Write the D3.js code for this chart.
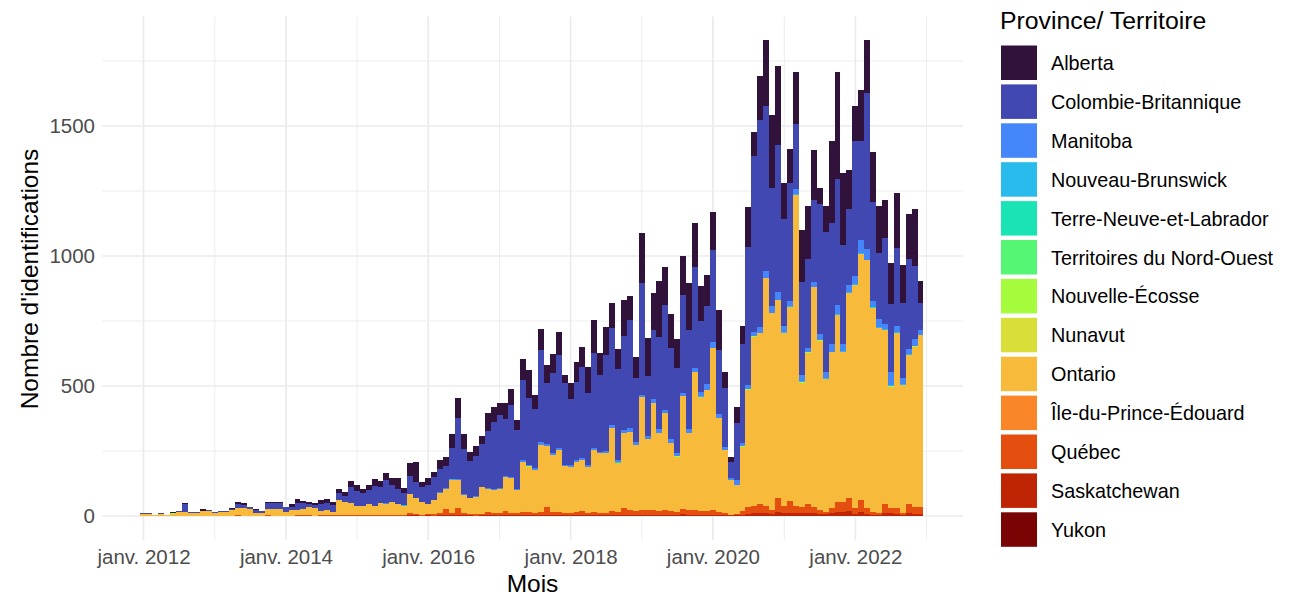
<!DOCTYPE html>
<html>
<head>
<meta charset="utf-8">
<script src="https://cdn.jsdelivr.net/npm/d3@7"></script>
<style>
  body { margin: 0; background: #fff; }
  svg { font-family: "Liberation Sans", Arial, sans-serif; }
</style>
</head>
<body>
<svg id="chart" width="1295" height="596"></svg>
<script>
// monthly identifications, Jan 2012 -> Dec 2022 (one row per year)
var alberta = [
  0,0,0,0,0,1,1,2,1,1,7,1,
  1,1,1,2,8,9,2,2,1,6,6,6,
  3,9,13,10,10,6,12,15,11,16,18,25,
  22,15,20,25,25,30,25,40,20,50,80,22,
  25,20,35,35,55,75,60,35,40,30,70,55,
  45,60,60,40,80,106,55,80,68,74,87,32,
  62,77,77,99,126,81,109,96,79,141,90,81,
  192,147,144,212,145,131,112,150,182,169,135,122,
  145,154,64,19,64,70,154,90,167,254,282,304,
  141,131,199,199,205,190,60,103,314,413,276,151,
  132,196,205,192,182,145,160,215,144,171,220,83
];
var colombie = [
  1,1,0,2,1,3,4,30,4,4,2,2,
  2,4,4,5,16,13,8,11,6,23,23,23,
  16,13,28,23,9,14,28,26,29,25,24,60,
  57,51,54,76,60,88,65,57,46,69,59,55,
  75,90,89,87,118,236,173,141,153,166,220,261,
  280,220,279,226,308,258,228,352,235,308,358,313,
  253,302,351,275,365,296,370,373,348,362,418,246,
  428,231,264,356,406,350,327,376,382,389,273,300,
  353,247,225,63,217,379,529,677,800,635,456,566,
  410,454,249,357,342,318,500,538,466,484,382,293,
  520,382,601,381,254,334,260,297,288,346,280,103
];
var manitoba = [
  0,0,0,0,0,0,0,0,0,0,0,0,
  0,0,0,0,0,0,0,0,0,0,0,0,
  0,0,0,0,0,0,0,0,0,0,0,0,
  0,0,0,0,0,1,0,0,0,1,0,0,
  0,1,1,1,2,2,2,1,2,2,2,2,
  3,3,3,3,6,5,5,13,8,6,7,5,
  6,6,8,8,6,5,8,12,10,10,12,10,
  8,10,15,15,10,15,12,15,15,15,15,20,
  25,15,12,8,20,12,15,15,20,25,25,30,
  25,20,20,25,15,18,22,23,32,35,28,28,
  32,50,40,23,32,19,51,26,26,22,28,19
];
var nouveauBrunswick = [
  0,0,0,0,0,0,0,0,0,0,0,0,
  0,0,0,0,0,0,0,0,0,0,0,0,
  0,0,0,0,0,0,0,0,0,0,0,0,
  0,0,0,0,0,0,0,0,1,0,0,0,
  0,0,0,0,1,0,0,0,0,0,0,0,
  0,0,1,0,0,0,1,0,0,0,0,1,
  1,0,0,1,0,2,0,1,0,0,1,0,
  0,1,0,0,2,1,0,0,1,0,2,1,
  1,0,0,0,1,2,3,2,1,2,1,0,
  2,1,2,3,2,1,2,3,1,2,1,2,
  2,3,1,2,2,1,3,2,1,2,2,1
];
var terreNeuve = [
  0,0,0,0,0,0,0,0,0,0,0,0,
  0,0,0,0,0,0,0,0,0,0,0,0,
  0,0,0,0,0,0,0,0,0,0,0,0,
  0,0,0,0,0,0,0,0,0,0,0,0,
  0,0,0,0,0,0,1,0,0,0,0,0,
  0,0,0,0,0,0,0,0,0,0,0,0,
  0,0,0,0,0,0,0,0,2,0,0,0,
  0,0,0,0,0,1,0,0,0,0,0,0,
  0,0,0,0,0,0,0,0,0,0,0,0,
  0,0,0,0,1,0,0,0,0,0,0,1,
  0,0,0,1,0,0,0,0,1,0,0,0
];
var territoiresNO = [
  0,0,0,0,0,0,0,0,0,0,0,0,
  0,0,0,0,0,0,0,0,0,0,0,0,
  0,0,0,0,0,0,0,0,0,0,0,0,
  0,0,0,0,0,0,0,0,0,0,0,0,
  0,0,0,0,0,0,0,0,0,0,0,0,
  0,0,0,0,0,0,0,0,0,0,0,0,
  0,0,0,0,0,0,0,0,0,0,0,0,
  0,0,0,0,0,0,0,0,0,0,0,0,
  0,0,0,0,0,0,0,1,0,0,0,0,
  0,0,0,0,0,0,0,0,0,0,0,0,
  0,0,0,0,0,1,0,0,0,0,0,0
];
var nouvelleEcosse = [
  0,0,0,0,0,1,0,0,0,0,0,0,
  0,0,0,0,0,0,0,0,0,0,0,0,
  0,0,0,0,0,0,0,0,0,0,0,0,
  0,0,0,0,0,0,0,0,0,0,0,0,
  0,0,0,0,0,0,0,0,0,0,0,0,
  0,0,0,0,0,1,0,0,0,0,0,0,
  0,0,0,0,1,0,0,0,0,1,0,0,
  0,0,0,1,0,0,1,0,0,0,0,0,
  0,0,0,0,0,1,2,1,0,0,1,0,
  1,0,1,2,1,0,1,1,0,1,0,1,
  1,1,0,2,1,1,2,1,0,1,1,0
];
var nunavut = [
  0,0,0,0,0,0,0,0,0,0,0,0,
  0,0,0,0,0,0,0,0,0,0,0,0,
  0,0,0,0,0,0,0,0,0,0,0,0,
  0,0,0,0,0,0,0,0,0,0,0,0,
  0,0,0,0,0,0,0,0,0,0,0,0,
  0,0,0,0,0,0,0,0,0,0,0,0,
  0,0,0,0,0,0,0,0,0,0,0,0,
  0,0,0,0,0,0,0,0,0,0,0,0,
  0,0,0,0,0,0,0,0,0,0,0,0,
  0,0,0,0,0,0,1,0,0,0,0,0,
  0,0,0,0,0,0,0,0,0,0,0,0
];
var ontario = [
  9,8,4,8,3,8,14,16,11,12,17,19,
  12,13,15,21,27,28,25,12,13,24,25,25,
  16,22,21,24,34,28,18,21,13,59,48,46,
  37,35,42,36,45,44,51,43,37,75,63,50,
  37,54,80,77,130,111,68,62,66,101,90,87,
  95,132,132,90,193,173,164,259,235,220,240,181,
  176,193,196,176,238,230,228,319,189,288,302,254,
  434,273,411,299,372,261,212,434,294,532,439,466,
  622,360,241,133,112,247,452,650,656,874,756,761,
  663,748,1195,478,581,844,651,509,599,718,577,788,
  859,946,956,782,712,669,468,674,494,573,615,660
];
var ilePE = [
  0,0,0,0,0,0,0,0,0,0,0,0,
  0,0,0,0,0,0,0,0,0,0,0,0,
  0,0,0,0,0,0,0,0,0,0,0,0,
  0,0,0,0,0,0,0,0,0,0,0,0,
  0,0,0,0,0,0,0,0,0,0,0,0,
  0,0,0,0,0,0,0,0,0,0,0,0,
  0,0,0,0,0,0,0,0,0,0,0,0,
  0,0,0,0,0,0,0,0,0,0,0,0,
  0,0,0,0,0,0,0,0,1,0,0,0,
  0,0,0,0,0,1,0,0,0,0,0,0,
  0,0,0,0,1,0,0,0,0,0,0,0
];
var quebec = [
  0,1,0,0,0,1,1,1,1,0,1,1,
  0,1,0,1,2,1,1,1,0,2,1,1,
  1,1,2,2,2,1,2,2,2,3,3,3,
  2,3,3,3,4,3,4,4,3,8,5,4,
  6,5,8,25,8,25,10,6,8,7,12,10,
  8,15,10,8,12,14,10,10,30,12,10,8,
  10,12,15,10,12,8,10,14,12,25,18,15,
  20,18,20,15,18,15,12,20,20,18,15,15,
  18,12,10,3,5,15,25,30,35,30,15,55,
  30,45,30,25,35,25,15,10,20,40,40,50,
  20,45,20,12,7,35,20,20,7,35,27,27
];
var saskatchewan = [
  0,0,0,0,0,0,0,0,0,0,0,0,
  0,0,0,0,0,0,0,0,0,0,0,0,
  0,0,0,0,0,0,0,0,0,0,1,1,
  1,0,0,1,1,1,0,1,0,2,2,1,
  2,1,2,3,2,4,2,2,1,2,3,3,
  2,3,3,2,4,3,3,4,5,3,4,3,
  3,4,4,3,4,3,3,4,3,5,4,4,
  5,4,5,4,5,4,4,5,4,5,5,4,
  5,4,3,2,2,5,8,10,12,10,8,15,
  10,12,10,10,12,10,8,7,9,15,15,18,
  9,17,9,5,3,11,9,9,3,11,9,9
];
var yukon = [
  0,0,0,0,0,0,0,0,0,0,0,0,
  0,0,0,0,0,0,0,0,0,0,0,0,
  0,0,0,0,0,0,0,0,0,0,0,0,
  0,0,0,0,0,0,0,0,0,0,0,0,
  0,0,0,0,0,0,0,0,0,0,0,0,
  0,0,0,0,0,0,0,0,0,0,0,0,
  0,0,0,0,0,0,0,0,0,0,0,0,
  0,0,0,0,0,0,0,1,0,0,0,0,
  0,0,0,0,0,0,0,0,0,0,0,0,
  0,0,0,0,0,0,0,0,1,0,0,0,
  0,0,0,0,0,0,1,0,0,0,0,0
];

// legend order (top of the stack first)
var provinces = ["Alberta", "Colombie-Britannique", "Manitoba", "Nouveau-Brunswick",
  "Terre-Neuve-et-Labrador", "Territoires du Nord-Ouest", "Nouvelle-Écosse", "Nunavut",
  "Ontario", "Île-du-Prince-Édouard", "Québec", "Saskatchewan", "Yukon"];
var series = [alberta, colombie, manitoba, nouveauBrunswick, terreNeuve, territoiresNO,
  nouvelleEcosse, nunavut, ontario, ilePE, quebec, saskatchewan, yukon];
var colors = ["#30123B", "#4248B2", "#4686FB", "#28BBEC", "#1AE4B6", "#54F673", "#A4FC3C",
  "#D9DE38", "#F8BA3A", "#F9872A", "#E44E0E", "#BF2405", "#7A0403"];

var yTicks = [0, 500, 1000, 1500];
var yMinor = [250, 750, 1250, 1750];

var svgWidth = 1295, svgHeight = 596;
var panel = { left: 102, right: 963, top: 16.5, bottom: 540 };

var months = d3.timeMonth.range(new Date(2012, 0, 1), new Date(2023, 0, 1));

var table = months.map(function(m, i) {
  var row = { date: m, idx: i };
  provinces.forEach(function(p, j) { row[p] = series[j][i]; });
  return row;
});

var svg = d3.select("#chart");
svg.append("rect").attr("width", svgWidth).attr("height", svgHeight).attr("fill", "#fff");

var x = d3.scaleTime()
  .domain([new Date(2012, 0, 1), new Date(2023, 0, 1)])
  .range([143.5, 926.5]);

var y = d3.scaleLinear()
  .domain([0, 1500])
  .range([516, 126]);

// grid
var grid = svg.append("g");
var minorYears = d3.range(2013, 2024, 2).map(function(yr) { return new Date(yr, 0, 1); });
var majorYears = d3.range(2012, 2023, 2).map(function(yr) { return new Date(yr, 0, 1); });

grid.selectAll(".ymin").data(yMinor).join("line")
  .attr("x1", panel.left).attr("x2", panel.right)
  .attr("y1", d => y(d)).attr("y2", d => y(d))
  .attr("stroke", "#EBEBEB").attr("stroke-width", 0.9);
grid.selectAll(".xmin").data(minorYears).join("line")
  .attr("x1", d => x(d)).attr("x2", d => x(d))
  .attr("y1", panel.top).attr("y2", panel.bottom)
  .attr("stroke", "#EBEBEB").attr("stroke-width", 0.9);
grid.selectAll(".ymaj").data(yTicks).join("line")
  .attr("x1", panel.left).attr("x2", panel.right)
  .attr("y1", d => y(d)).attr("y2", d => y(d))
  .attr("stroke", "#EBEBEB").attr("stroke-width", 1.7);
grid.selectAll(".xmaj").data(majorYears).join("line")
  .attr("x1", d => x(d)).attr("x2", d => x(d))
  .attr("y1", panel.top).attr("y2", panel.bottom)
  .attr("stroke", "#EBEBEB").attr("stroke-width", 1.7);

// bar edges: halfway between consecutive months, snapped to whole pixels
var edges = d3.range(months.length + 1).map(function(i) {
  var a = i === 0 ? d3.timeMonth.offset(months[0], -1) : months[i - 1];
  var b = i === months.length ? d3.timeMonth.offset(months[i - 1], 1) : months[i];
  return Math.round(x(new Date((+a + +b) / 2)));
});

// stacked bars, Yukon at the bottom, Alberta on top
var stack = d3.stack().keys(provinces.slice().reverse());
var layers = stack(table);

svg.append("g")
  .selectAll("g")
  .data(layers)
  .join("g")
  .attr("fill", d => colors[provinces.indexOf(d.key)])
  .selectAll("rect")
  .data(d => d.filter(s => s[1] > s[0]))
  .join("rect")
  .attr("x", d => edges[d.data.idx])
  .attr("width", d => edges[d.data.idx + 1] - edges[d.data.idx])
  .attr("y", d => Math.round(y(d[1])))
  .attr("height", d => Math.round(y(d[0])) - Math.round(y(d[1])))
  .attr("shape-rendering", "crispEdges");

// axes
var xAxis = svg.append("g")
  .attr("transform", `translate(0, ${panel.bottom})`)
  .call(d3.axisBottom(x).tickValues(majorYears).tickSize(0).tickPadding(9)
    .tickFormat(d => "janv. " + d.getFullYear()));
var yAxis = svg.append("g")
  .attr("transform", `translate(${panel.left}, 0)`)
  .call(d3.axisLeft(y).tickValues(yTicks).tickSize(0).tickPadding(7)
    .tickFormat(d3.format("d")));

[xAxis, yAxis].forEach(function(a) {
  a.select(".domain").remove();
  a.selectAll("text")
    .attr("fill", "#4D4D4D")
    .style("font-size", "20.5px")
    .style("font-family", "'Liberation Sans', Arial, sans-serif");
});

svg.append("text")
  .attr("x", (panel.left + panel.right) / 2)
  .attr("y", 592)
  .attr("text-anchor", "middle")
  .style("font-size", "24.5px")
  .text("Mois");

svg.append("text")
  .attr("transform", "translate(38, 279) rotate(-90)")
  .attr("text-anchor", "middle")
  .style("font-size", "24.5px")
  .text("Nombre d'identifications");

// legend
var legend = svg.append("g").attr("transform", "translate(1001, 0)");
legend.append("text")
  .attr("x", -1).attr("y", 29)
  .style("font-size", "24.8px")
  .text("Province/ Territoire");

var items = legend.selectAll(".item")
  .data(provinces)
  .join("g")
  .attr("transform", (d, i) => `translate(0, ${45.5 + i * 38.9})`);
items.append("rect")
  .attr("width", 36).attr("height", 34.5)
  .attr("fill", (d, i) => colors[i]);
items.append("text")
  .attr("x", 50).attr("y", 24.5)
  .style("font-size", "19.8px")
  .text(d => d);
</script>
</body>
</html>
